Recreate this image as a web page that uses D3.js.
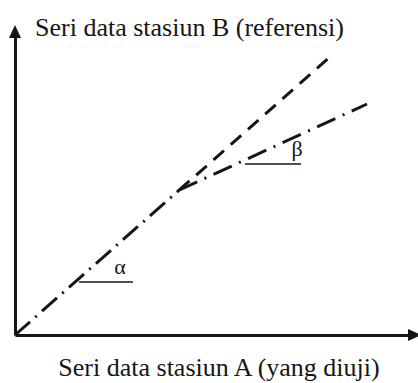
<!DOCTYPE html>
<html>
<head>
<meta charset="utf-8">
<script src="https://cdn.jsdelivr.net/npm/d3@7"></script>
<style>
  html, body { margin: 0; padding: 0; background: #fff; }
  svg { display: block; }
  text { font-family: "Liberation Serif", "Times New Roman", serif; fill: #161616; }
</style>
</head>
<body>
<svg id="chart" width="418" height="383"></svg>
<script>
// ---- data (abstract units: station A on x, station B on y) ----
const mainX   = [0, 41];      // dash-dot segment before the break (slope alpha)
const mainY   = [0, 47];
const extX    = [41, 78.5];   // dashed continuation (expected, homogeneous)
const extY    = [47, 90];
const brokenX = [41, 88];     // dash-dot segment after the break (slope beta)
const brokenY = [47, 75];
const alphaRefX = [16, 29.5];
const alphaRefY = [17.2, 17.2];
const betaRefX  = [57.5, 71.5];
const betaRefY  = [55.5, 55.5];
const angleLabels = ["α", "β"];
const xTitle = "Seri data stasiun A (yang diuji)";
const yTitle = "Seri data stasiun B (referensi)";

const svg = d3.select("#chart");
const W = 418, H = 383;
const x = d3.scaleLinear().domain([0, 100]).range([15, 415]);
const y = d3.scaleLinear().domain([0, 100]).range([335, 27]);
const ink = "#161616";

const zip = (xs, ys) => xs.map((v, i) => [v, ys[i]]);
const line = d3.line().x(d => x(d[0])).y(d => y(d[1]));

// axes (no ticks), with arrowheads
svg.append("g").attr("transform", `translate(0,${y(0)})`)
  .call(d3.axisBottom(x.copy().range([15, 412])).tickValues([]).tickSizeOuter(0));
svg.append("g").attr("transform", `translate(${x(0)},0)`)
  .call(d3.axisLeft(y.copy().range([335, 36])).tickValues([]).tickSizeOuter(0));
svg.selectAll(".domain").attr("stroke", ink).attr("stroke-width", 3);

svg.append("path")
  .attr("d", `M${x(0)},${y(100) - 2} L${x(0) - 6},${y(100) + 11} L${x(0) + 6},${y(100) + 11} Z`)
  .attr("fill", ink);
svg.append("path")
  .attr("d", `M${W + 3},${y(0)} L${W - 10},${y(0) - 6} L${W - 10},${y(0) + 6} Z`)
  .attr("fill", ink);

// lines
svg.append("path").datum(zip(mainX, mainY)).attr("d", line)
  .attr("fill", "none").attr("stroke", ink).attr("stroke-width", 3)
  .attr("stroke-dasharray", "20,7,2,7");
svg.append("path").datum(zip(extX, extY)).attr("d", line)
  .attr("fill", "none").attr("stroke", ink).attr("stroke-width", 3)
  .attr("stroke-dasharray", "14,9");
svg.append("path").datum(zip(brokenX, brokenY)).attr("d", line)
  .attr("fill", "none").attr("stroke", ink).attr("stroke-width", 3)
  .attr("stroke-dasharray", "20,8,2,8");

// horizontal reference lines for angles
svg.append("path").datum(zip(alphaRefX, alphaRefY)).attr("d", line)
  .attr("fill", "none").attr("stroke", ink).attr("stroke-width", 1.6);
svg.append("path").datum(zip(betaRefX, betaRefY)).attr("d", line)
  .attr("fill", "none").attr("stroke", ink).attr("stroke-width", 1.6);

// angle labels
svg.append("text").attr("x", x(alphaRefX[1]) - 13).attr("y", y(alphaRefY[0]) - 8)
  .attr("text-anchor", "middle").attr("font-size", 22).text(angleLabels[0]);
svg.append("text").attr("x", x(betaRefX[1]) - 4).attr("y", y(betaRefY[0]) - 8)
  .attr("text-anchor", "middle").attr("font-size", 22).text(angleLabels[1]);

// axis titles
svg.append("text").attr("x", 35).attr("y", 36)
  .attr("font-size", 26).text(yTitle);
svg.append("text").attr("x", 219).attr("y", 376)
  .attr("text-anchor", "middle").attr("font-size", 26).text(xTitle);
</script>
</body>
</html>
